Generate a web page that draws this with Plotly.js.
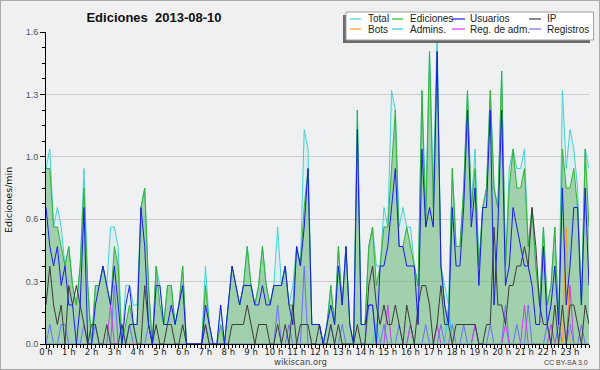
<!DOCTYPE html>
<html><head><meta charset="utf-8">
<script src="https://cdn.plot.ly/plotly-3.0.1.min.js"></script>
<style>
html,body{margin:0;padding:0;background:#f0f0f0;}
#wrap{position:relative;width:600px;height:370px;}
#chart{width:600px;height:370px;}
#frame{position:absolute;left:0;top:0;width:598px;height:368px;border:1px solid #aaaaaa;pointer-events:none;}
</style>
</head><body>
<div id="wrap"><div id="chart"></div><div id="frame"></div></div>
<script>
// ---- data (edits per minute, one value per 10-minute slot, 00:00 .. 23:50) ----
const seriesNames = ['Total','Ediciones','Usuarios','IP','Bots','Admins.','Reg. de adm.','Registros'];
const total = [
 .9,1.0,.6,.7,.6,.4,.5,.3,.2,.4, .9,.3,0,.3,.3,.4,.3,.6,.6,.5, 0,.3,.3,.2,.2,.7,.8,.3,0,.4,
 .3,.1,.3,.3,.1,.2,.4,0,0,0, 0,0,.4,.1,0,0,.2,0,.2,.4, .3,.2,.3,.5,.3,.2,.3,.5,.3,.2,
 .3,.6,.3,.4,.2,.3,.5,.4,1.1,1.0, .1,.1,.1,0,.1,.3,.1,.5,.2,.5, .1,0,1.2,.1,.1,.5,.6,.4,.4,.7,
 .6,1.3,1.2,.6,.7,.6,.6,.4,.3,1.3, .7,1.5,.8,1.6,.4,.3,.2,.9,.5,.5, .8,1.3,.7,1.0,.4,.7,.8,1.3,.8,.7,
 1.4,.4,.9,1.0,.9,.9,1.0,.5,.7,.4, .2,.6,.2,.3,.6,.1,1.3,.9,1.1,1.0, .8,.2,1.0,.9];
const ediciones = [
 .9,.9,.6,.6,.5,.4,.5,.3,.2,.4, .8,.3,0,.3,.3,.4,.3,.2,.5,.4, 0,.1,.2,.1,.1,.7,.8,.3,0,.4,
 .2,.1,.3,.3,.1,.2,.4,0,0,0, 0,0,.3,.1,0,0,.1,0,.2,.4, .3,.2,.3,.5,.3,.2,.3,.5,.3,.2,
 .3,.3,.3,.4,.2,.2,.5,.4,.7,.9, .1,.1,.1,0,.1,.3,.1,.5,.2,.5, .1,0,1.2,.1,.1,.5,.6,.3,.4,.6,
 .6,.9,1.2,.5,.5,.6,.5,.4,.3,1.3, .6,1.5,.7,1.5,.4,.2,.1,.9,.5,.5, .8,1.3,.7,.9,.4,.7,.8,1.3,.8,.7,
 1.4,.4,.8,1.0,.8,.8,.9,.5,.7,.4, .2,.6,.2,.3,.6,.1,1.0,.8,.8,.9, .7,.2,1.0,.6];
const usuarios = [
 .7,.5,.4,.5,.3,.4,.2,.2,0,.2, .7,0,0,.2,.3,.4,.3,.2,.4,.2, 0,.2,.3,.1,.1,.7,.5,.1,0,.3,
 .3,.1,.1,.2,.1,.2,.3,0,0,0, 0,0,.2,.1,0,0,.2,0,.2,.4, .3,.2,.3,.3,.3,.2,.2,.3,.2,.2,
 .3,.3,.3,.4,.2,.1,.5,.4,.6,.9, .1,.1,.1,0,.1,.2,.1,.4,.2,.5, .1,0,1.1,.1,.1,.2,.2,0,.4,.4,
 .5,.7,.9,.5,.5,.4,.4,.4,.1,1.0, .6,.7,.6,1.5,.4,.2,.1,.7,.4,.4, .7,1.2,.6,.8,.3,.7,.7,1.2,.2,.6,
 1.2,.3,.4,.7,.6,.5,.4,.4,.3,.1, .1,.5,.1,.2,.4,.1,.8,.2,.4,.7, .7,.2,.8,.3];
const ip = [
 .2,.4,.2,.1,.2,0,.3,.2,.3,.2, .1,0,.1,.1,0,0,.1,0,0,0, .1,0,.1,.1,0,0,.3,.1,0,.1,
 0,0,.1,.1,0,0,.1,0,0,0, 0,0,.1,0,0,0,0,0,0,.1, .1,.1,.1,.2,.1,0,.1,.1,.1,0,
 0,.1,0,.1,0,.2,0,.1,.1,.1, 0,0,.1,0,0,.1,0,.1,0,0, 0,0,.1,0,0,.3,.4,.2,.1,.2,
 .1,.1,.2,.1,0,.2,.1,0,.2,.3, .3,.2,0,.1,.3,.1,.1,0,.1,.1, .1,.1,.1,.1,0,0,.1,.1,.6,.2,
 .2,.1,.3,.3,.4,.4,.5,.4,.7,.5, .2,.1,.1,0,.2,0,.2,0,.2,.2, .1,0,.2,.1];
const bots = [
 0,0,0,0,0,0,0,0,0,0, 0,0,0,0,0,0,0,0,0,0, 0,0,0,0,0,0,0,0,0,0,
 0,0,0,0,0,0,0,0,0,0, 0,0,0,0,0,0,0,0,0,0, 0,0,0,0,0,0,0,0,0,0,
 0,0,0,0,0,0,0,0,0,0, 0,0,0,0,0,0,0,0,0,0, 0,0,0,0,0,0,0,0,0,0,
 0,0,0,0,0,0,0,0,0,0, 0,0,0,0,0,0,0,0,0,0, 0,0,0,0,0,0,0,0,0,0,
 0,0,0,0,0,0,0,0,0,0, 0,0,0,0,0,0,0,.6,0,0, 0,0,0,0];
const admins = [
 0,0,0,0,0,0,0,0,0,0, 0,0,0,0,0,0,0,0,0,0, 0,0,.1,.1,0,0,0,0,0,0,
 0,0,0,0,0,0,0,0,0,0, 0,0,0,0,0,0,0,0,0,0, 0,0,0,0,0,0,0,0,0,0,
 0,0,0,0,0,0,0,0,0,0, 0,0,0,0,0,0,0,0,0,0, 0,0,0,0,0,0,0,.1,0,0,
 0,0,0,0,0,0,0,0,0,0, 0,0,0,0,0,0,.2,0,0,0, 0,0,0,0,0,0,0,0,0,0,
 0,0,0,0,0,0,0,0,0,0, 0,0,0,0,0,0,0,0,0,0, 0,0,0,0];
const regAdm = [
 0,0,0,0,0,0,0,0,0,0, 0,0,0,0,0,0,0,.2,0,0, 0,0,0,0,0,0,0,0,0,0,
 0,0,0,0,0,0,0,0,0,0, 0,0,0,0,0,0,0,0,0,0, 0,0,0,0,0,0,0,0,0,0,
 0,0,0,0,0,0,0,0,0,0, 0,0,0,0,0,0,0,0,0,0, 0,0,0,0,0,0,0,0,0,0,
 .2,0,0,0,0,0,.1,0,0,0, 0,0,0,.1,0,0,0,0,0,0, 0,0,0,.1,0,0,0,0,0,0,
 0,.1,0,0,0,0,.2,0,0,0, 0,0,0,.1,0,0,0,0,.3,0, 0,0,0,0];
const registros = [
 0,.1,0,0,.1,.1,0,0,0,0, .1,0,0,.1,0,0,0,0,.3,0, 0,0,.1,0,0,0,0,.1,0,0,
 0,0,0,0,0,0,0,0,0,0, 0,0,.1,0,0,0,0,0,0,0, 0,0,0,0,0,0,0,0,0,0,
 0,.2,0,0,.1,0,0,0,.4,0, 0,0,0,0,0,.1,0,0,.1,0, 0,0,0,0,0,.2,.2,0,0,.1,
 0,0,0,.1,0,0,.1,0,0,0, .1,0,0,0,.1,0,0,.1,0,0, .1,0,0,.1,0,0,0,.1,0,0,
 0,.2,0,0,.1,0,0,.2,0,0, 0,0,.1,0,0,.1,0,0,.1,0, 0,.1,0,0];
const slotsPerHour = 6;
const hourLabels = ['0 h','1 h','2 h','3 h','4 h','5 h','6 h','7 h','8 h','9 h','10 h','11 h',
  '12 h','13 h','14 h','15 h','16 h','17 h','18 h','19 h','20 h','21 h','22 h','23 h'];
const yTickVals = [0, 0.32, 0.64, 0.96, 1.28, 1.6];
const yTickLabels = ['0.0','0.3','0.6','1.0','1.3','1.6'];

// ---- styling ----
const colors = {
  'Total':'#44d2d2', 'Ediciones':'#33b233', 'Usuarios':'#1a1af0', 'IP':'#3c3c3c',
  'Bots':'#ff9a1a', 'Admins.':'#2cc8e0', 'Reg. de adm.':'#cc3ce8', 'Registros':'#6e6eff'
};
const values = {
  'Total':total, 'Ediciones':ediciones, 'Usuarios':usuarios, 'IP':ip,
  'Bots':bots, 'Admins.':admins, 'Reg. de adm.':regAdm, 'Registros':registros
};
const xs = total.map((_, i) => i / slotsPerHour);
const hourVals = hourLabels.map((_, i) => i);

const L = 46, R = 589, T = 32, B = 344, W = 600, H = 370;
const px = p => (p - L) / (R - L);
const py = p => (B - p) / (B - T);

function line(name, extra) {
  return Object.assign({
    type:'scatter', mode:'lines', x:xs, y:values[name], name:name,
    line:{color:colors[name], width:1}, hoverinfo:'skip', showlegend:false
  }, extra || {});
}
const drawOrder = ['Registros','Reg. de adm.','Bots','Admins.','IP','Usuarios'];
const traces = [
  line('Total', {fill:'tozeroy', fillcolor:'rgba(170,232,232,0.22)'}),
  line('Ediciones', {fill:'tozeroy', fillcolor:'rgba(60,160,60,0.38)'}),
].concat(drawOrder.map(n => line(n)));

// custom legend
const shapes = [
  {type:'rect', xref:'paper', yref:'paper', x0:px(343), x1:px(590), y0:py(43), y1:py(15),
   fillcolor:'#6a6a6a', line:{width:0}, layer:'above'},
  {type:'rect', xref:'paper', yref:'paper', x0:px(346), x1:px(593.5), y0:py(40), y1:py(12),
   fillcolor:'#ffffff', line:{color:'#a0a0a0', width:1}, layer:'above'}
];
const annotations = [];
const colLine = [[350,361],[392,403],[452,465],[529,541]];
const colText = [366,408,468,545];
const rowY = [19,29];
seriesNames.forEach((n, i) => {
  const c = i % 4, r = Math.floor(i / 4);
  shapes.push({type:'line', xref:'paper', yref:'paper', x0:px(colLine[c][0]), x1:px(colLine[c][1]),
    y0:py(rowY[r]), y1:py(rowY[r]), line:{color:colors[n], width:1.2}, layer:'above'});
  annotations.push({xref:'paper', yref:'paper', x:px(colText[c]), y:py(rowY[r]), text:n,
    showarrow:false, xanchor:'left', yanchor:'middle',
    font:{family:'Liberation Sans, Arial, sans-serif', size:10, color:'#222'}});
});
annotations.push({xref:'paper', yref:'paper', x:px(8), y:py(200), text:'Ediciones/min', textangle:-90,
  showarrow:false, xanchor:'center', yanchor:'middle',
  font:{family:'DejaVu Sans, sans-serif', size:9.5, color:'#111'}});
annotations.push({xref:'paper', yref:'paper', x:px(300), y:py(362), text:'wikiscan.org',
  showarrow:false, xanchor:'center', yanchor:'middle',
  font:{family:'DejaVu Sans, sans-serif', size:8.5, color:'#444'}});
annotations.push({xref:'paper', yref:'paper', x:px(590), y:py(362), text:'CC BY-SA 3.0',
  showarrow:false, xanchor:'right', yanchor:'middle',
  font:{family:'Liberation Sans, sans-serif', size:7, color:'#444'}});

const layout = {
  width:W, height:H,
  margin:{l:L, r:W-R, t:T, b:H-B, pad:0},
  paper_bgcolor:'#f0f0f0', plot_bgcolor:'#eef0f2',
  title:{text:'Ediciones\u00a0\u00a02013-08-10', x:154/W, xref:'container', xanchor:'center',
    y:1-17/H, yref:'container', yanchor:'middle',
    font:{family:'Liberation Sans, Arial, sans-serif', size:13, color:'#111', weight:'bold'}},
  showlegend:false, hovermode:false,
  xaxis:{range:[0, xs[xs.length-1]], tickmode:'array', tickvals:hourVals, ticktext:hourLabels,
    showgrid:false, zeroline:false, showline:true, linecolor:'#000', linewidth:1,
    ticks:'outside', ticklen:4, tickcolor:'#000', tickwidth:1, ticklabelstandoff:-4,
    tickfont:{family:'DejaVu Sans, sans-serif', size:8.5, color:'#222'},
    minor:{tickmode:'linear', tick0:0, dtick:1/slotsPerHour, ticks:'outside', ticklen:3, tickcolor:'#000', showgrid:false}},
  yaxis:{range:[0, 1.6], tickmode:'array', tickvals:yTickVals, ticktext:yTickLabels,
    showgrid:true, gridcolor:'#cccccc', gridwidth:1, zeroline:false,
    showline:true, linecolor:'#000', linewidth:1,
    ticks:'outside', ticklen:5, tickcolor:'#000', tickwidth:1,
    tickfont:{family:'Liberation Sans, sans-serif', size:9, color:'#555'},
    minor:{tickmode:'linear', tick0:0, dtick:0.08, ticks:'outside', ticklen:3, tickcolor:'#000', showgrid:false}},
  shapes:shapes, annotations:annotations
};
Plotly.newPlot('chart', traces, layout, {staticPlot:true, displayModeBar:false});
</script>
</body></html>
